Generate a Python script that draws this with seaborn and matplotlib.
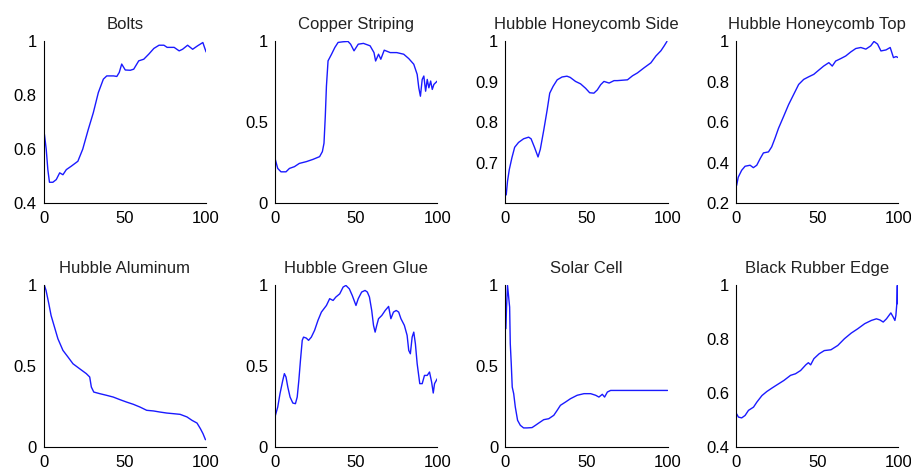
import matplotlib
matplotlib.use("Agg")
import matplotlib.pyplot as plt
import seaborn as sns

# panel titles, in reading order
titles = ["Bolts", "Copper Striping", "Hubble Honeycomb Side", "Hubble Honeycomb Top",
          "Hubble Aluminum", "Hubble Green Glue", "Solar Cell", "Black Rubber Edge"]

bolts_x = [0.4, 1.5, 2.5, 3.5, 5.6, 7.7, 9.8, 11.8, 13.9, 17, 21, 24, 27.4, 30.5, 33.6, 36.7,
           38.8, 43, 45, 46.5, 48, 50.2, 53.3, 55.4, 58.5, 61.6, 64.7, 67.8, 71, 74, 76, 80.3,
           83.4, 85.5, 88.6, 91.7, 94.8, 98, 99, 100]
bolts_y = [0.655, 0.60, 0.524, 0.477, 0.477, 0.487, 0.512, 0.505, 0.524, 0.537, 0.555, 0.60,
           0.673, 0.735, 0.81, 0.86, 0.872, 0.872, 0.87, 0.885, 0.916, 0.894, 0.893, 0.897,
           0.928, 0.934, 0.953, 0.974, 0.986, 0.986, 0.978, 0.978, 0.965, 0.971, 0.986, 0.971,
           0.984, 0.996, 0.978, 0.961]

copper_x = [0, 1.7, 3.7, 6.8, 8.9, 12, 15, 19.3, 23.4, 27.5, 29.2, 30.2, 31, 31.7, 32.7, 34.8,
            36.9, 38.9, 42, 45, 46.6, 48.7, 51.3, 54.5, 58.6, 61, 62, 63.8, 65.2, 67.3, 71, 75,
            79.3, 82.4, 85.5, 87.6, 88.6, 89.6, 90.7, 91.7, 92.8, 93.8, 94.8, 95.9, 96.9, 97.9,
            100]
copper_y = [0.277, 0.214, 0.193, 0.193, 0.214, 0.225, 0.245, 0.256, 0.27, 0.287, 0.318, 0.37,
            0.536, 0.723, 0.88, 0.92, 0.963, 0.994, 0.998, 1.0, 0.983, 0.942, 0.983, 0.988,
            0.973, 0.931, 0.879, 0.921, 0.89, 0.946, 0.931, 0.931, 0.921, 0.894, 0.859, 0.796,
            0.713, 0.661, 0.765, 0.786, 0.692, 0.765, 0.713, 0.755, 0.703, 0.734, 0.755]

side_x = [0.6, 1.4, 2.5, 4.1, 5.8, 8.2, 11.3, 14.4, 15.9, 18, 20.2, 21.6, 23.7, 25.8, 27.4,
          29.5, 32, 35, 38, 40, 43.3, 46.4, 49.5, 52, 54.6, 56.7, 58.8, 60.8, 64, 67, 69, 75.3,
          78.4, 81.4, 85.6, 89.7, 92.8, 95.9, 97.9, 99.6]
side_y = [0.62, 0.654, 0.683, 0.712, 0.738, 0.75, 0.759, 0.763, 0.759, 0.738, 0.714, 0.733,
          0.78, 0.83, 0.872, 0.889, 0.905, 0.912, 0.914, 0.911, 0.901, 0.895, 0.884, 0.873,
          0.872, 0.88, 0.893, 0.901, 0.897, 0.903, 0.903, 0.905, 0.915, 0.922, 0.935, 0.947,
          0.964, 0.977, 0.989, 1.0]

top_x = [0.4, 1.4, 3.5, 5.6, 8.7, 10.7, 12.8, 14.9, 16.9, 20, 22, 24, 26.2, 29.3, 32.4, 35.5,
         38.6, 41.7, 44.8, 47.9, 51, 54, 57.2, 59.3, 61.4, 64.5, 67.6, 70.7, 73.8, 76.9, 80,
         83, 85, 87.2, 89.3, 92.4, 95, 96, 97, 98.6, 100]
top_y = [0.287, 0.328, 0.362, 0.382, 0.387, 0.375, 0.387, 0.42, 0.448, 0.453, 0.478, 0.52,
         0.57, 0.628, 0.687, 0.737, 0.787, 0.812, 0.825, 0.837, 0.858, 0.878, 0.895, 0.878,
         0.903, 0.915, 0.928, 0.948, 0.965, 0.97, 0.962, 0.978, 1.0, 0.987, 0.953, 0.958,
         0.97, 0.945, 0.92, 0.925, 0.92]

alu_x = [0.4, 1.4, 3.1, 4.5, 6.6, 8.7, 11.8, 14.9, 18, 22, 26.2, 28.3, 29.3, 30.8, 34.5, 38.6,
         42.8, 46.9, 51, 55.2, 59.3, 63.4, 67.6, 71.7, 75.8, 80, 84, 88.2, 91.3, 94.4, 96.5,
         98.1, 99.6]
alu_y = [1.0, 0.969, 0.887, 0.814, 0.742, 0.67, 0.598, 0.557, 0.515, 0.485, 0.454, 0.433,
         0.371, 0.34, 0.33, 0.32, 0.309, 0.293, 0.278, 0.264, 0.247, 0.227, 0.223, 0.216,
         0.21, 0.206, 0.202, 0.186, 0.165, 0.148, 0.113, 0.082, 0.045]

glue_x = [0, 1.7, 3.1, 4.8, 5.8, 6.8, 7.9, 9.3, 11, 12.6, 13.7, 14.7, 15.7, 16.8, 17.6, 19.3,
          20.7, 22.4, 24.4, 26.5, 28.6, 31.7, 33.7, 35.8, 37.5, 39.9, 42, 43.7, 45.8, 47.6,
          49.9, 51.3, 53.4, 55.5, 56.9, 58.2, 59.6, 60.7, 61.7, 62.7, 63.8, 65.8, 67.9, 70,
          71.4, 73, 74.7, 76.2, 77.6, 79.7, 81.4, 82.4, 83.4, 84.5, 85.5, 86.5, 87.6, 89.2,
          90.7, 92.1, 93.8, 95.2, 96.5, 97.5, 98.3, 100]
glue_y = [0.186, 0.247, 0.33, 0.412, 0.454, 0.433, 0.371, 0.309, 0.272, 0.268, 0.309, 0.412,
          0.536, 0.66, 0.68, 0.674, 0.66, 0.68, 0.722, 0.784, 0.835, 0.876, 0.918, 0.907,
          0.928, 0.948, 0.99, 1.0, 0.979, 0.938, 0.876, 0.918, 0.959, 0.969, 0.959, 0.928,
          0.845, 0.753, 0.711, 0.753, 0.794, 0.814, 0.845, 0.87, 0.794, 0.835, 0.845, 0.835,
          0.794, 0.753, 0.691, 0.598, 0.577, 0.68, 0.711, 0.639, 0.515, 0.392, 0.392, 0.443,
          0.443, 0.464, 0.402, 0.334, 0.392, 0.423]

solar_x = [0.4, 0.8, 1.4, 2.1, 2.7, 3.1, 3.7, 4.3, 5.2, 6.2, 7.6, 9.3, 11.3, 13.4, 16.5, 18.6,
           20.6, 23.7, 26.8, 29.9, 32, 34, 37.1, 40.2, 44.3, 48.5, 52.6, 55.7, 57.7, 59.8,
           61.2, 62.9, 64.9, 69, 75.3, 85.6, 100]
solar_y = [0.732, 0.866, 1.0, 0.928, 0.866, 0.639, 0.515, 0.371, 0.33, 0.247, 0.165, 0.134,
           0.118, 0.118, 0.12, 0.134, 0.148, 0.169, 0.175, 0.196, 0.227, 0.258, 0.278, 0.299,
           0.32, 0.33, 0.33, 0.32, 0.309, 0.326, 0.309, 0.34, 0.35, 0.35, 0.35, 0.35, 0.35]

rubber_x = [0.4, 1.5, 3.5, 5.6, 7.7, 10.8, 12.9, 16, 19, 22.2, 25.3, 29.5, 33.6, 36.7, 39.8,
            43, 44.6, 46, 48, 51.2, 54.4, 58.5, 62.7, 66.8, 71, 75, 79.3, 83.4, 86.5, 88.6,
            90.7, 92.7, 95.4, 96.9, 97.9, 98.5, 99, 99.4, 99.6]
rubber_y = [0.523, 0.511, 0.508, 0.517, 0.536, 0.548, 0.567, 0.591, 0.606, 0.619, 0.631,
            0.647, 0.666, 0.672, 0.684, 0.705, 0.713, 0.705, 0.728, 0.746, 0.758, 0.761,
            0.777, 0.802, 0.823, 0.839, 0.858, 0.87, 0.876, 0.872, 0.864, 0.876, 0.898, 0.882,
            0.87, 0.889, 0.926, 1.0, 0.932]

xs = [bolts_x, copper_x, side_x, top_x, alu_x, glue_x, solar_x, rubber_x]
ys = [bolts_y, copper_y, side_y, top_y, alu_y, glue_y, solar_y, rubber_y]

# y axis limits and labelled ticks per panel
ylims = [(0.4, 1), (0, 1), (0.6, 1), (0.2, 1), (0, 1), (0, 1), (0, 1), (0.4, 1)]
yticks = [[0.4, 0.6, 0.8, 1], [0, 0.5, 1], [0.7, 0.8, 0.9, 1], [0.2, 0.4, 0.6, 0.8, 1],
          [0, 0.5, 1], [0, 0.5, 1], [0, 0.5, 1], [0.4, 0.6, 0.8, 1]]

sns.set_style("white")
plt.rcParams["font.family"] = ["Liberation Sans", "DejaVu Sans"]

fig = plt.figure(figsize=(9.12, 4.71), dpi=100)

lefts = [0.048, 0.3015, 0.554, 0.807]
bottoms = [0.569, 0.051]
w, h = 0.178, 0.343

for i in range(8):
    ax = fig.add_axes([lefts[i % 4], bottoms[i // 4], w, h])
    sns.lineplot(x=xs[i], y=ys[i], ax=ax, color="#1a1aff", linewidth=1.0,
                 estimator=None, sort=False)
    ax.set_xlim(0, 100)
    ax.set_ylim(*ylims[i])
    ax.set_xticks([0, 50, 100])
    ax.set_xticklabels(["0", "50", "100"])
    ax.set_yticks(yticks[i])
    ax.set_yticklabels([("%g" % v) for v in yticks[i]])
    ax.tick_params(direction="in", length=3, width=0.8, labelsize=12, colors="black")
    ax.tick_params(axis="x", pad=6)
    ax.tick_params(axis="y", pad=5)
    for s in ["top", "right"]:
        ax.spines[s].set_visible(False)
    for s in ["left", "bottom"]:
        ax.spines[s].set_color("black")
        ax.spines[s].set_linewidth(0.8)
    ax.set_title(titles[i], fontsize=12, pad=9, color="#222222")

fig.savefig("out.png", dpi=100)
